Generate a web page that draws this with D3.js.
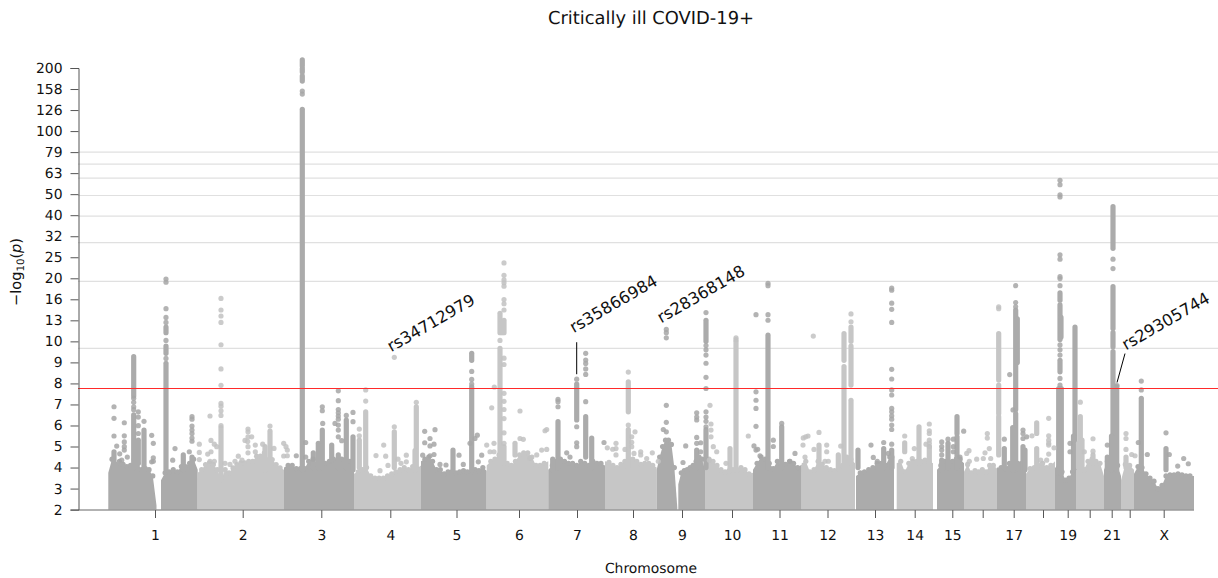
<!DOCTYPE html>
<html>
<head>
<meta charset="utf-8">
<style>
body { margin: 0; background: #fff; }
text { font-family: "DejaVu Sans"; fill: #111; text-rendering: geometricPrecision; }
</style>
</head>
<body>
<svg id="chart" width="1218" height="578"></svg>
<script src="https://d3js.org/d3.v7.min.js"></script>
<script>
// genome position is in bins along the concatenated chromosomes (1 bin ~ 2.85 Mb)
var genomeBins = 1086;

var xTickBins = [47, 134.7, 213.3, 282.3, 348.5, 411, 469, 525, 574, 624, 671.5, 719.5, 767, 806.7, 844.3, 874.7, 905.7, 935, 959.7, 981.7, 1003.7, 1021.7, 1055.7];
var xTickLabels = ["1", "2", "3", "4", "5", "6", "7", "8", "9", "10", "11", "12", "13", "14", "15", "", "17", "", "19", "", "21", "", "X"];

var yTicks = [2, 3, 4, 5, 6, 7, 8, 9, 10, 12.59, 15.85, 19.95, 25.12, 31.62, 39.81, 50.12, 63.1, 79.43, 100, 125.9, 158.5, 199.5];
var yTickLabels = ["2", "3", "4", "5", "6", "7", "8", "9", "10", "13", "16", "20", "25", "32", "40", "50", "63", "79", "100", "126", "158", "200"];

var gridValues = [9.67, 19.3, 29.5, 39.4, 49.4, 59.7, 69.7, 79.4];
var threshold = 7.76;

// tops of the dense part of each chromosome, evenly sampled between its two ends
var chr1a = [3.75, 4.4, 4.15, 4.3, 4.15, 4.05, 4.1, 4.4, 4.2, 3.9, 3.95, 3.9, 3.6, 2.2];
var chr1b = [3.4, 3.75, 3.8, 3.9, 3.8, 4.05, 4.05, 4.2, 4.4, 3.9];
var chr2 = [3.75, 3.9, 4.14, 4.22, 4.14, 3.9, 3.43, 3.9, 3.75, 3.98, 4.14, 4.22, 4.22, 4.3, 4.3, 4.54, 4.54, 4.7, 4.38, 4.38, 4.14, 3.98, 3.9];
var chr3 = [4.0, 4.1, 4.1, 3.95, 3.95, 3.95, 4.3, 4.2, 4.15, 4.1, 4.2, 4.3, 4.4, 4.3, 4.4, 4.4, 4.3, 4.1];
var chr4 = [3.7, 3.8, 3.9, 4.0, 3.6, 3.5, 3.5, 3.5, 3.6, 3.7, 3.8, 3.9, 4.0, 3.9, 4.05, 3.95, 4.1];
var chr5 = [4.3, 4.4, 4.5, 4.3, 3.9, 3.9, 3.7, 3.8, 3.8, 3.75, 3.8, 3.85, 3.8, 3.8, 3.9, 3.85, 4.0, 3.85];
var chr6 = [4.1, 4.3, 4.4, 4.6, 4.6, 4.2, 4.1, 4.3, 4.6, 4.7, 4.7, 4.5, 4.1, 4.1, 4.2, 4.3];
var chr7 = [3.9, 4.1, 4.3, 4.4, 4.3, 4.2, 4.2, 4.1, 4.3, 4.2, 4.1, 4.3, 4.2, 4.2, 4.1];
var chr8 = [4.3, 4.25, 4.1, 4.0, 4.15, 4.3, 4.4, 4.4, 4.3, 4.15, 4.2, 4.2, 4.1, 4.0];
var chr9a = [3.9, 4.5, 5.0, 5.3, 5.3, 5.1, 4.0, 2.1];
var chr9b = [3.2, 3.75, 3.85, 3.9, 4.0, 4.1, 4.3, 4.5, 4.4, 3.9];
var chr10 = [4.0, 4.4, 4.3, 4.1, 3.9, 3.8, 3.85, 3.9, 3.9, 4.0, 3.9, 3.7, 3.75];
var chr11 = [3.9, 4.2, 4.5, 4.4, 4.2, 3.95, 4.3, 4.1, 4.15, 4.3, 4.2, 4.0, 4.15];
var chr12 = [4.2, 4.3, 3.8, 3.9, 4.3, 4.15, 4.0, 3.9, 3.85, 3.95, 4.1, 4.5, 4.4, 4.2];
var chr13 = [3.6, 3.75, 3.8, 3.9, 4.0, 4.2, 4.2, 4.1, 4.5, 4.2];
var chr14 = [4.2, 4.3, 3.8, 4.2, 4.3, 4.3, 4.3, 4.35, 4.3, 4.2];
var chr15 = [3.9, 4.1, 4.3, 4.2, 4.3, 4.4, 4.4, 4.2];
var chr16 = [3.8, 4.15, 3.75, 3.85, 3.8, 3.9, 3.8, 4.1, 4.1, 3.95];
var chr17 = [4.0, 4.0, 3.95, 4.2, 4.3, 4.2, 4.2, 3.9];
var chr18 = [3.7, 3.95, 4.0, 4.1, 4.2, 4.0, 4.1, 4.3];
var chr19 = [4.0, 4.0, 3.8, 3.4, 3.5, 3.8, 3.9];
var chr20 = [3.95, 4.1, 3.9, 4.3, 4.4, 4.3, 4.2, 3.6];
var chr21 = [3.9, 4.3, 4.1, 4.1, 4.1, 3.6];
var chr22 = [3.4, 4.15, 4.1, 3.9];
var chrX = [3.7, 4.05, 4.0, 3.7, 3.5, 3.35, 3.0, 3.15, 3.6, 3.65, 3.65, 3.7, 3.65, 3.6, 3.6, 3.6];

// chromosome, first bin, last bin, tops
var massBlocks = [
    [1, 0.3, 48.5, chr1a], [1, 53, 89.7, chr1b], [2, 89.7, 176, chr2], [3, 176, 246, chr3],
    [4, 246, 313, chr4], [5, 313, 378.7, chr5], [6, 378.7, 440.3, chr6], [7, 440.3, 497, chr7],
    [8, 497, 548.7, chr8], [9, 548.7, 569.3, chr9a], [9, 570.3, 597, chr9b], [10, 597, 645, chr10],
    [11, 645, 693.7, chr11], [12, 693.7, 747, chr12], [13, 748, 786, chr13], [14, 788.7, 825, chr14],
    [15, 829, 856, chr15], [16, 856, 889, chr16], [17, 889, 918, chr17], [18, 918, 947, chr18],
    [19, 947, 968, chr19], [20, 968, 996, chr20], [21, 996, 1013, chr21], [22, 1013, 1026, chr22],
    [23, 1026, 1086, chrX]
];

// unbroken runs of points: chromosome, bin, lowest, highest
var stackRows = [
    [1, 6, 3.9, 4.75], [1, 25.7, 7.4, 9.27], [1, 25.7, 4, 6.5], [1, 30.3, 4.2, 5.3], [1, 36, 3.9, 5.78],
    [1, 58, 3.9, 8.96], [1, 58, 9.43, 9.78], [1, 58, 11, 11.7], [1, 75.3, 3.9, 4.6], [1, 84, 3.9, 4.5],
    [2, 113, 3.6, 5.9], [2, 162, 4, 5.73], [2, 157, 3.9, 5.0],
    [3, 194.3, 3.9, 127], [3, 194.3, 173, 183], [3, 194.3, 191, 198], [3, 194.3, 204, 218], [3, 214.3, 4, 5.78], [3, 238.3, 4, 6.26], [3, 245, 3.9, 5.46],
    [3, 223.7, 4.35, 5.07], [3, 210.3, 4, 5.15], [3, 230.3, 4, 4.6], [3, 205.3, 4, 4.7],
    [4, 251.3, 4, 5.3], [4, 257.7, 4, 6.65], [4, 286.3, 4, 5.7], [4, 308.3, 4, 6.89], [4, 307, 3.9, 4.8],
    [5, 345, 3.9, 4.83], [5, 363.7, 9.1, 9.43], [5, 363.7, 3.9, 7.84],
    [6, 392, 4.5, 9.67], [6, 392, 11, 13.6], [6, 394, 11, 12.3], [6, 396, 11, 12.6], [6, 407, 4.6, 5.15], [6, 396, 4.2, 5.0],
    [7, 450, 4, 6.18], [7, 444.7, 3.9, 4.4], [7, 468.7, 6.26, 7.97], [7, 477.7, 4.5, 6.42], [7, 483.7, 4, 5.4],
    [8, 520.3, 6.65, 8.08], [8, 520.3, 4, 5.8],
    [9, 598, 10, 12.6], [9, 598, 4, 5.8], [9, 588.7, 4, 4.83],
    [10, 628, 4, 10], [10, 622, 4, 4.9],
    [11, 660, 4, 10.7], [11, 673.7, 4, 5.94],
    [12, 711, 4, 5.07], [12, 730.3, 4, 4.6], [12, 736, 4, 8.8], [12, 736, 9.1, 10.9], [12, 743, 7.92, 9.78], [12, 743, 10, 11.7], [12, 743, 4.2, 7.2],
    [13, 750, 4, 4.83], [13, 775.7, 4, 4.9], [13, 783.7, 4.5, 4.83], [13, 784, 4, 4.5],
    [14, 796.7, 4.75, 5.18], [14, 811, 4.2, 5.94], [14, 821.3, 4.2, 5],
    [15, 833.7, 3.9, 4.35], [15, 840, 4, 5.15], [15, 849, 4, 5.46], [15, 849, 5.62, 6.42],
    [16, 890.7, 8.16, 10.9], [16, 890.7, 6.57, 7.92], [16, 890.7, 4.6, 6.42],
    [17, 896.3, 4, 4.9], [17, 907.7, 6.74, 14.1], [17, 907.7, 3.9, 6.57], [17, 909.3, 9, 12.8], [17, 904.7, 3.9, 5.9], [17, 915, 4, 4.99], [17, 917, 3.9, 4.83],
    [18, 928.7, 5.62, 6.13], [18, 928.7, 4, 4.9],
    [19, 950.7, 3.7, 7.76], [19, 953.3, 3.7, 7.76], [19, 952, 8.55, 9.1], [19, 952, 10.2, 14.9], [19, 953, 10.5, 13], [19, 952, 15.7, 17],
    [19, 967, 4, 11.7], [19, 965.5, 3.9, 5.5],
    [20, 972.3, 5.15, 6.42], [20, 970.5, 4, 5.15], [20, 985, 4.2, 4.6], [20, 974, 4, 5.3],
    [21, 1005, 27.7, 43.7], [21, 1005, 11.5, 18.2], [21, 1005, 9.75, 11], [21, 1005, 3.9, 9.51], [21, 1008.7, 3.9, 7.84], [21, 999.3, 4, 4.5], [21, 1003.5, 3.9, 5.5],
    [22, 1018, 4, 4.5],
    [23, 1033.3, 3.9, 7.29], [23, 1058, 3.9, 4.9]
];

// separate points: chromosome, bin, values
var dotColumns = [
    [1, 6, [6.89, 6.34, 5.5]], [1, 8.7, [5.02]], [1, 11.7, [4.65]], [1, 13.7, [4.35]], [1, 16.3, [6.13, 5.51, 5.22, 4.99, 4.83]], [1, 19.3, [4.5]],
    [1, 25.7, [7.29, 7.1, 6.89, 6.75]], [1, 30.3, [6.65, 6.4, 5.99, 5.62]], [1, 36, [6.2]], [1, 43.7, [5.53, 4.27]], [1, 45.3, [5.15, 4.46, 4.3]],
    [1, 58, [19.8, 19.1, 14.3, 13, 12.3, 10.1, 9.19]], [1, 67, [4.9]], [1, 64.7, [4.35]], [1, 84, [6.42, 6.3, 5.97, 5.78, 5.62, 5.4, 5.25]], [1, 81.3, [4.75]],
    [2, 91.3, [5.11, 4.72, 4.38]], [2, 99.7, [4.64]], [2, 102, [6.45, 4.3]], [2, 103, [5.29, 4.75]], [2, 106.3, [5.11, 4.3]], [2, 108.7, [4.99]],
    [2, 113, [16, 14.1, 13.2, 12.3, 9.84, 8.69, 7.91, 7.05, 6.92, 6.7, 6.48, 6]], [2, 117, [4.2]], [2, 122, [4.15]], [2, 127, [4.3]], [2, 130.3, [4.54]], [2, 134, [4.35]],
    [2, 137, [5.29]], [2, 139.7, [5.24]], [2, 140, [5.83, 5.7, 5.46, 4.99, 4.7]], [2, 143.7, [5.46]], [2, 147.3, [5.07, 4.75]], [2, 154.7, [5.11]], [2, 162, [5.97]],
    [2, 166, [4.91]], [2, 175.7, [5.15, 4.55]], [2, 178, [4.99]], [2, 179.3, [4.83, 4.56]],
    [3, 194.3, [155, 150]], [3, 197.7, [5.19, 4.5]], [3, 188.3, [4.56]], [3, 214.3, [6.89, 6.7]], [3, 214.7, [6.1]],
    [3, 230.3, [7.65, 7.18, 6.76, 6.6, 6.45, 6.3, 6.02, 5.78, 5.46]], [3, 227, [6.1]], [3, 238.3, [6.48]], [3, 245, [6.62, 6.18]], [3, 233.7, [5.28]], [3, 205, [4.4]],
    [4, 251.3, [5.83, 5.51]], [4, 257.7, [7.69, 7.16]], [4, 268, [4.57]], [4, 272, [3.85]], [4, 275.7, [5.07]], [4, 277.7, [4.54]], [4, 280, [4.1]], [4, 286.3, [9.24, 5.94]], [4, 290, [4.4]], [4, 293, [4.2]], [4, 298.3, [4.59, 4.27]], [4, 308.3, [7.1]],
    [5, 316.7, [5.72, 5.18]], [5, 322, [5.38, 5.03, 4.56]], [5, 327, [5.8]], [5, 326, [5.11, 4.62]], [5, 314.7, [4.59]], [5, 332, [4.15]], [5, 338, [4.12]], [5, 351, [4.59]], [5, 355.3, [4.15]],
    [5, 363.7, [8.57, 8.19, 7.97]], [5, 369.3, [5.54]], [5, 367, [5.38]], [5, 362, [5.15]], [5, 373.7, [4.59]], [5, 370.3, [4.27]],
    [6, 383.7, [6.84]], [6, 386.3, [7.83]], [6, 396, [23.6, 20.6, 19.6, 19, 18.3, 15.8, 15.1, 14.1, 9.2, 8.9, 7.53, 7.15, 6.76, 6.33, 5.65, 5.15]], [6, 392, [10.1]],
    [6, 412, [6.69, 5.38]], [6, 438.7, [5.81, 4.86]], [6, 437, [5.75]], [6, 415.3, [5.34]], [6, 378.7, [5.07]], [6, 382, [4.75]], [6, 386, [5.15, 4.75]], [6, 422, [4.44]], [6, 428.7, [4.6]], [6, 433.7, [4.83]],
    [7, 450, [7.24, 7.13, 6.89]], [7, 458.7, [4.7]], [7, 462, [4.5]], [7, 468.7, [8.2, 5.94, 5.18, 4.99]], [7, 477.7, [9.43, 9.11, 8.95, 8.69, 8.43, 7.13]], [7, 496, [5.19]],
    [8, 499.3, [4.94]], [8, 508, [5.15, 4.9, 4.6]], [8, 504.7, [4.87]], [8, 520.3, [8.54, 6.02]], [8, 527, [5.7]], [8, 523.7, [5.46, 5.2, 4.99]], [8, 517, [4.86]], [8, 526, [4.67]],
    [8, 532.7, [4.75, 4.6]], [8, 538.7, [4.43]], [8, 544.3, [4.7]], [8, 550.3, [4.3]],
    [9, 558.3, [11.4, 11, 10.4, 6.96, 6.15, 5.7]], [9, 555.3, [5.81]], [9, 577.7, [5.03]], [9, 575, [4.24]], [9, 588.7, [6.6, 6.4, 6.26, 5.43, 5.15]], [9, 592.7, [5.18, 4.75]],
    [9, 598, [13.7, 9.8, 9.6, 9.35, 8.96, 8.29, 7.76, 6.65, 6.4, 6.2, 5.94]],
    [10, 602, [6.96]], [10, 603, [6.07, 5.78, 5.46]], [10, 605.3, [4.99]], [10, 608.7, [4.75]], [10, 601.3, [4.35]], [10, 640.3, [5.5]], [10, 618, [4.2]], [10, 628, [10.4, 10.2]],
    [11, 646, [5.03]], [11, 648, [13.4, 7.6, 7.2, 6.81, 5.96, 4.83]], [11, 649.7, [4.87]], [11, 652, [4.56]], [11, 660, [18.9, 18.4, 13.4, 12.6]], [11, 665.3, [5.3, 5]], [11, 673.7, [6.1]], [11, 687, [4.67]], [11, 682, [4.3]],
    [12, 695.3, [5.41]], [12, 697.7, [5.46]], [12, 700, [5.5]], [12, 695, [5.07]], [12, 705.3, [10.6]], [12, 711, [5.67]], [12, 706, [4.86]], [12, 718.7, [5.07, 4.75]], [12, 717, [4.3]], [12, 720.3, [4.3]], [12, 697, [4.5]], [12, 732.7, [5.02]], [12, 743, [13.5, 12.4]],
    [13, 783.7, [17.9, 17.5, 15.2, 14.2, 12.3, 8.67, 8.21, 7.69, 7.45, 6.81, 6.65, 6.46, 6.3, 6.02, 5.81, 5.11]], [13, 763, [5.07]], [13, 765.3, [4.48]], [13, 769.3, [4.3]], [13, 775.7, [5.19]], [13, 780.3, [4.67]],
    [14, 796.7, [5.5]], [14, 821.3, [6.07, 5.75, 5.62, 5.3, 5.15, 5]], [14, 818, [5.11]], [14, 806.3, [4.9]], [14, 804.3, [4.43]],
    [15, 833.7, [5.22, 5, 4.83, 4.6]], [15, 840, [5.35]], [15, 845.3, [5.35, 4.99, 4.75]], [15, 855.7, [5.73]], [15, 852, [4.5]],
    [16, 858.7, [4.67]], [16, 861, [4.8]], [16, 861.3, [4.3]], [16, 868.7, [4.4]], [16, 879.3, [5.62, 5.4]], [16, 881.3, [4.9]], [16, 877, [4.7]], [16, 875.3, [4.43]], [16, 882.7, [4.43]], [16, 890.7, [14.6, 14.3]],
    [17, 896.3, [5.35]], [17, 901.7, [8.42]], [17, 907.7, [18.4, 15.3, 14.6]], [17, 905, [6.74]], [17, 915, [5.78, 5.62, 5.38]], [17, 918.7, [5.46]],
    [18, 924, [5.51]], [18, 940.7, [6.34, 5.51, 5.3, 5.15, 5.07, 4.64]], [18, 946, [4.94]], [18, 932.7, [4.35]], [18, 938.7, [4.35]],
    [19, 952, [58.3, 55.6, 49.8, 48.6, 25.8, 24.6, 20.3, 19.9, 18.4, 9.83, 9.6, 9.35, 8.24, 7.92]], [19, 962, [5.15, 4.75]],
    [20, 972.3, [7.11]], [20, 985, [5.37, 4.78]], [20, 976.3, [4.75]],
    [21, 1005, [24.6, 22.2]], [21, 999.3, [5.07]], [21, 1009, [7.9]],
    [22, 1018, [5.62, 5.38, 4.86]], [22, 1023.7, [4.62]], [22, 1027, [4.56]],
    [23, 1033.3, [8.11, 7.69]], [23, 1030.3, [5.19]], [23, 1039.3, [4.62]], [23, 1058, [5.65]], [23, 1061.3, [4.62]], [23, 1069.7, [4.07]], [23, 1075.7, [4.43]], [23, 1080.3, [4.18]]
];

var annotNames = ["rs34712979", "rs35866984", "rs28368148", "rs29305744"];
var annotBins = [286.3, 468.7, 558.3, 1009];
var annotValues = [9.24, 8.2, 11.4, 7.9];

var darkGrey = "#ababab", lightGrey = "#c6c6c6";
var dotDark = "#a6a6a6", dotLight = "#c2c2c2";
var dotRadius = 2.6;

var svg = d3.select("#chart");

var x = d3.scaleLinear().domain([0, genomeBins]).range([108, 1194]);
var rows = d3.scaleLinear().domain([2, 23]).range([509.6, 68]);

// linear up to 10, log above it
function y(v) {
    return rows(v <= 10 ? v : 10 * Math.log10(v));
}
y.copy = function () { return y; };
y.domain = function () { return [2, 199.5]; };
y.range = function () { return rows.range(); };

function chromColor(c) {
    return c % 2 == 1 ? darkGrey : lightGrey;
}

// grid
svg.append("g").selectAll("line").data(gridValues).join("line")
    .attr("x1", 78).attr("x2", 1218)
    .attr("y1", d => y(d)).attr("y2", d => y(d))
    .attr("stroke", "#e0e0e0").attr("stroke-width", 1.2);

// dense part of the chromosomes
var area = d3.area()
    .x(d => x(d[0]))
    .y0(rows(2))
    .y1(d => y(d[1]));

var mass = svg.append("g");
massBlocks.forEach(function (b) {
    var step = (b[2] - b[1]) / (b[3].length - 1);
    var pts = b[3].map((v, i) => [b[1] + i * step, v]);
    mass.append("path").attr("d", area(pts)).attr("fill", chromColor(b[0]));
    // end samples stay out so the chromosome sides remain straight
    mass.selectAll(null).data(pts.slice(1, -1).filter(p => p[1] > 2.5)).join("circle")
        .attr("cx", d => x(d[0])).attr("cy", d => y(d[1]))
        .attr("r", dotRadius).attr("fill", chromColor(b[0]));
});

// runs of overlapping points
svg.append("g").selectAll("line").data(stackRows).join("line")
    .attr("x1", d => x(d[1])).attr("x2", d => x(d[1]))
    .attr("y1", d => y(d[2])).attr("y2", d => y(d[3]))
    .attr("stroke", d => chromColor(d[0]))
    .attr("stroke-width", dotRadius * 2)
    .attr("stroke-linecap", "round");

// single points
var dots = dotColumns.flatMap(c => c[2].map(v => [c[0], c[1], v]));
svg.append("g").selectAll("circle").data(dots).join("circle")
    .attr("cx", d => x(d[1])).attr("cy", d => y(d[2]))
    .attr("r", dotRadius)
    .attr("fill", d => d[0] % 2 == 1 ? dotDark : dotLight)
    .attr("fill-opacity", 0.85);

// significance line
svg.append("line")
    .attr("x1", 78).attr("x2", 1218)
    .attr("y1", y(threshold)).attr("y2", y(threshold))
    .attr("stroke", "#ff2a2a").attr("stroke-width", 1.1);

// axes
var yAxis = d3.axisLeft(y).tickValues(yTicks).tickFormat((d, i) => yTickLabels[i]).tickSize(8).tickPadding(8);
var gy = svg.append("g").attr("transform", "translate(78.5,0)").call(yAxis);

var xAxis = d3.axisBottom(x).tickValues(xTickBins).tickFormat((d, i) => xTickLabels[i]).tickSize(8).tickPadding(12);
var gx = svg.append("g").attr("transform", "translate(0,510)").call(xAxis);
gx.select(".domain").remove();
gx.append("line").attr("x1", 78).attr("x2", x(genomeBins)).attr("stroke", "#666");

svg.selectAll(".tick line").attr("stroke", "#555");
gy.select(".domain").attr("stroke", "#555");
svg.selectAll(".tick text").style("font-family", "DejaVu Sans").style("font-size", "13.9px").attr("fill", "#111");

// titles
svg.append("text").attr("x", 651).attr("y", 24).attr("text-anchor", "middle")
    .style("font-size", "17.9px").text("Critically ill COVID-19+");
svg.append("text").attr("x", 651).attr("y", 573).attr("text-anchor", "middle")
    .style("font-size", "13.9px").text("Chromosome");

var yLabel = svg.append("text").attr("transform", "translate(21,272) rotate(-90)")
    .attr("text-anchor", "middle").style("font-size", "14.6px");
yLabel.append("tspan").text("\u2212log");
yLabel.append("tspan").attr("dy", 3).style("font-size", "10.2px").text("10");
yLabel.append("tspan").attr("dy", -3).text("(");
yLabel.append("tspan").style("font-style", "italic").text("p");
yLabel.append("tspan").text(")");

// annotations, text offset from the point they name
var labelDx = [-3, -3, -5, 9];
var labelDy = [-5, -46, -6, -35];
var leaderFrom = [null, [0, -5, 0, -37], null, [0, -3, 8, -32]];

annotNames.forEach(function (name, i) {
    var px = x(annotBins[i]), py = y(annotValues[i]);
    svg.append("text")
        .attr("transform", "translate(" + (px + labelDx[i]) + "," + (py + labelDy[i]) + ") rotate(-30)")
        .style("font-size", "16.3px").text(name);
    if (leaderFrom[i]) {
        var l = leaderFrom[i];
        svg.append("line")
            .attr("x1", px + l[0]).attr("y1", py + l[1])
            .attr("x2", px + l[2]).attr("y2", py + l[3])
            .attr("stroke", "#000").attr("stroke-width", 1);
    }
});
</script>
</body>
</html>
